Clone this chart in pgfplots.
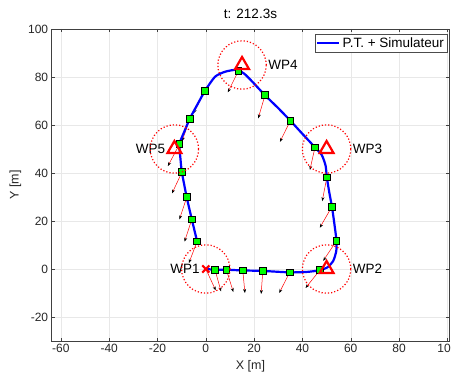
\documentclass[border=0pt]{standalone}
\usepackage{pgfplots}
\pgfplotsset{compat=1.18}
\usepackage{fontspec}
\setmainfont{Liberation Sans}
\usetikzlibrary{arrows.meta,calc}

\begin{document}
\begin{tikzpicture}
\begin{axis}[
  scale only axis, width=397.6pt, height=312pt,
  xmin=-63.8, xmax=100.8, ymin=-30, ymax=100,
  xtick={-60,-40,...,100}, ytick={-20,0,...,100},
  grid=major, major grid style={gray!18, line width=0.4pt},
  tick align=inside, major tick length=3.5pt,
  axis line style={black!75, line width=0.5pt},
  every tick/.style={black!75, line width=0.5pt},
  tick label style={font=\fontsize{12}{14}\selectfont, text=black!85},
  /pgf/number format/assume math mode=true,
  xlabel={X [m]}, ylabel={Y [m]}, title={t: 212.3s},
  label style={font=\fontsize{12.5}{15}\selectfont, text=black!85},
  xlabel style={yshift=-1pt},
  title style={font=\fontsize{13.5}{16}\selectfont, yshift=1pt},
  legend style={at={(0.996,0.984)}, anchor=north east, draw=black!70,
    line width=0.5pt, fill=white, font=\fontsize{13.5}{16}\selectfont,
    inner sep=1.5pt},
  legend image code/.code={\draw[#1] (0pt,0pt) -- (22pt,0pt);},
]
\coordinate (sw) at (rel axis cs:0,0);
\coordinate (ne) at (rel axis cs:1,1);

% arrows
\addplot[red, line width=0.5pt, -{Stealth[black, length=4pt, width=3pt]},
  quiver={u=\thisrow{u}, v=\thisrow{v}}, forget plot] table[x=x, y=y] {
x y u v
0 0 4.1 -8.9
3.8 -0.3 2.5 -9.0
8.5 -0.3 2.9 -9.3
15.3 -0.6 0.9 -9.4
23.6 -0.8 -0.7 -9.6
34.7 -1.4 -4.3 -8.6
47.2 -0.5 -5.9 -7.4
54.1 11.7 -5.5 -8.3
52.2 26.0 -5.0 -8.8
50.1 38.2 -1.9 -9.9
45.2 50.7 -2.1 -9.4
35.0 61.8 -4.3 -8.8
24.5 72.4 -2.8 -9.6
13.5 82.5 -4.4 -8.9
-0.3 74.3 -4.8 -9.4
-6.6 62.7 -3.2 -9.4
-10.9 52.0 -4.8 -9.1
-9.9 40.3 -4.1 -8.8
-7.9 29.9 -3.0 -9.2
-5.8 20.7 -3.0 -9.3
-3.6 11.5 -3.4 -9.0
};

% trajectory
\addplot[blue, line width=2.2pt, smooth, tension=0.4] coordinates {
(0,0) (3.8,-0.3) (8.5,-0.3) (15.3,-0.6) (23.6,-0.8) (34.7,-1.4) (42,-1.2)
(47.2,-0.5) (50.5,0.8) (52.8,3.5) (54,7.5) (54.1,11.7) (53.2,19) (52.2,26)
(51.1,32) (50.1,38.2) (49.6,43) (48,47.5) (45.2,50.7) (40,56.3) (35,61.8)
(30,67) (24.5,72.4) (19.3,78) (16,81.3) (12.8,83) (8,82.2) (3.8,80.1)
(-0.3,74.3) (-3.5,68.5) (-6.6,62.7) (-9,57) (-10.9,52) (-10.5,46)
(-9.9,40.3) (-7.9,29.9) (-5.8,20.7) (-3.6,11.5)
};
\addlegendentry{P.T. + Simulateur}

% sample markers
\addplot[only marks, mark=square*, mark size=3.4pt,
  mark options={fill=green, draw=black, line width=0.8pt}, forget plot] coordinates {
(3.8,-0.3) (8.5,-0.3) (15.3,-0.6) (23.6,-0.8) (34.7,-1.4) (47.2,-0.5)
(54.1,11.7) (52.2,26.0) (50.1,38.2) (45.2,50.7) (35.0,61.8) (24.5,72.4)
(13.5,82.5) (-0.3,74.3) (-6.6,62.7) (-10.9,52.0) (-9.9,40.3) (-7.9,29.9)
(-5.8,20.7) (-3.6,11.5)
};

% waypoint circles
\addplot[only marks, mark=o, mark size=24.2pt, red,
  mark options={dotted, line width=1.2pt}, forget plot] coordinates {
(0,0) (50,0) (50,50) (15,85) (-13,50)
};

% waypoints
\addplot[only marks, mark=triangle, mark size=8pt, red,
  mark options={solid, line width=2.2pt}, forget plot] coordinates {
(50,0) (50,50) (15,85) (-13,50)
};
\addplot[only marks, mark=x, mark size=5pt, red,
  mark options={solid, line width=2.2pt}, forget plot] coordinates {(0,0)};

\node[anchor=east, inner sep=0pt, font=\fontsize{13.5}{16}\selectfont] at (axis cs:-2.5,0) {WP1};
\node[anchor=west, inner sep=0pt, font=\fontsize{13.5}{16}\selectfont] at (axis cs:60.8,0) {WP2};
\node[anchor=west, inner sep=0pt, font=\fontsize{13.5}{16}\selectfont] at (axis cs:60.8,50) {WP3};
\node[anchor=west, inner sep=0pt, font=\fontsize{13.5}{16}\selectfont] at (axis cs:25.8,85) {WP4};
\node[anchor=east, inner sep=0pt, font=\fontsize{13.5}{16}\selectfont] at (axis cs:-16.8,50) {WP5};
\end{axis}
\pgfresetboundingbox
\path[use as bounding box] ($(sw)+(-51.7pt,-31pt)$) rectangle ($(ne)+(1.7pt,29pt)$);
\end{tikzpicture}
\end{document}
